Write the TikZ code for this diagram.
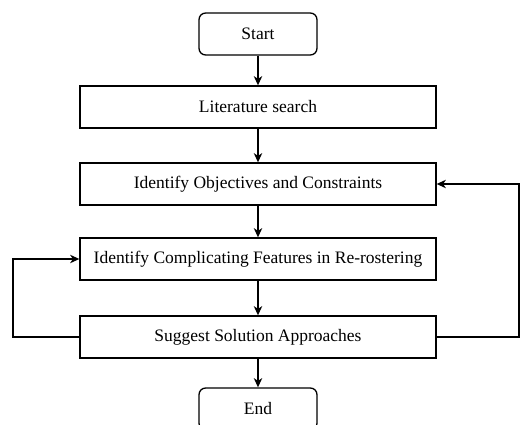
\documentclass[tikz,border=0pt]{standalone}
\usepackage{fontspec}
\setmainfont{Liberation Serif}
\usetikzlibrary{arrows.meta}

\tikzset{
  procbox/.style={draw, line width=0.8pt, minimum width=213.6pt, minimum height=25.2pt,
    inner sep=0pt, font=\fontsize{10.5}{12}\selectfont},
  termbox/.style={procbox, rounded corners=4pt, minimum width=70.8pt},
  flow/.style={line width=1.2pt, ->}
}

\begin{document}
\begin{tikzpicture}[x=0.6pt, y=-0.6pt, >={Stealth[length=5.5pt, width=5pt, inset=1.6pt]}]
\clip (0,0) rectangle (520,425);

\node[termbox] (start) at (258,34)  {Start};
\node[procbox] (lit)   at (258,107) {Literature search};
\node[procbox] (obj)   at (258,184) {Identify Objectives and Constraints};
\node[procbox] (feat)  at (258,259) {Identify Complicating Features in Re-rostering};
\node[procbox] (sugg)  at (258,337) {Suggest Solution Approaches};
\node[termbox] (stop)  at (258,409) {End};

\coordinate (L) at (13,337);
\coordinate (R) at (519,337);

\draw[flow] (start) -- (lit);
\draw[flow] (lit) -- (obj);
\draw[flow] (obj) -- (feat);
\draw[flow] (feat) -- (sugg);
\draw[flow] (sugg) -- (stop);

% feedback loops
\draw[flow] (sugg.west) -- (L) |- (feat.west);
\draw[flow] (sugg.east) -- (R) |- (obj.east);

\end{tikzpicture}
\end{document}
